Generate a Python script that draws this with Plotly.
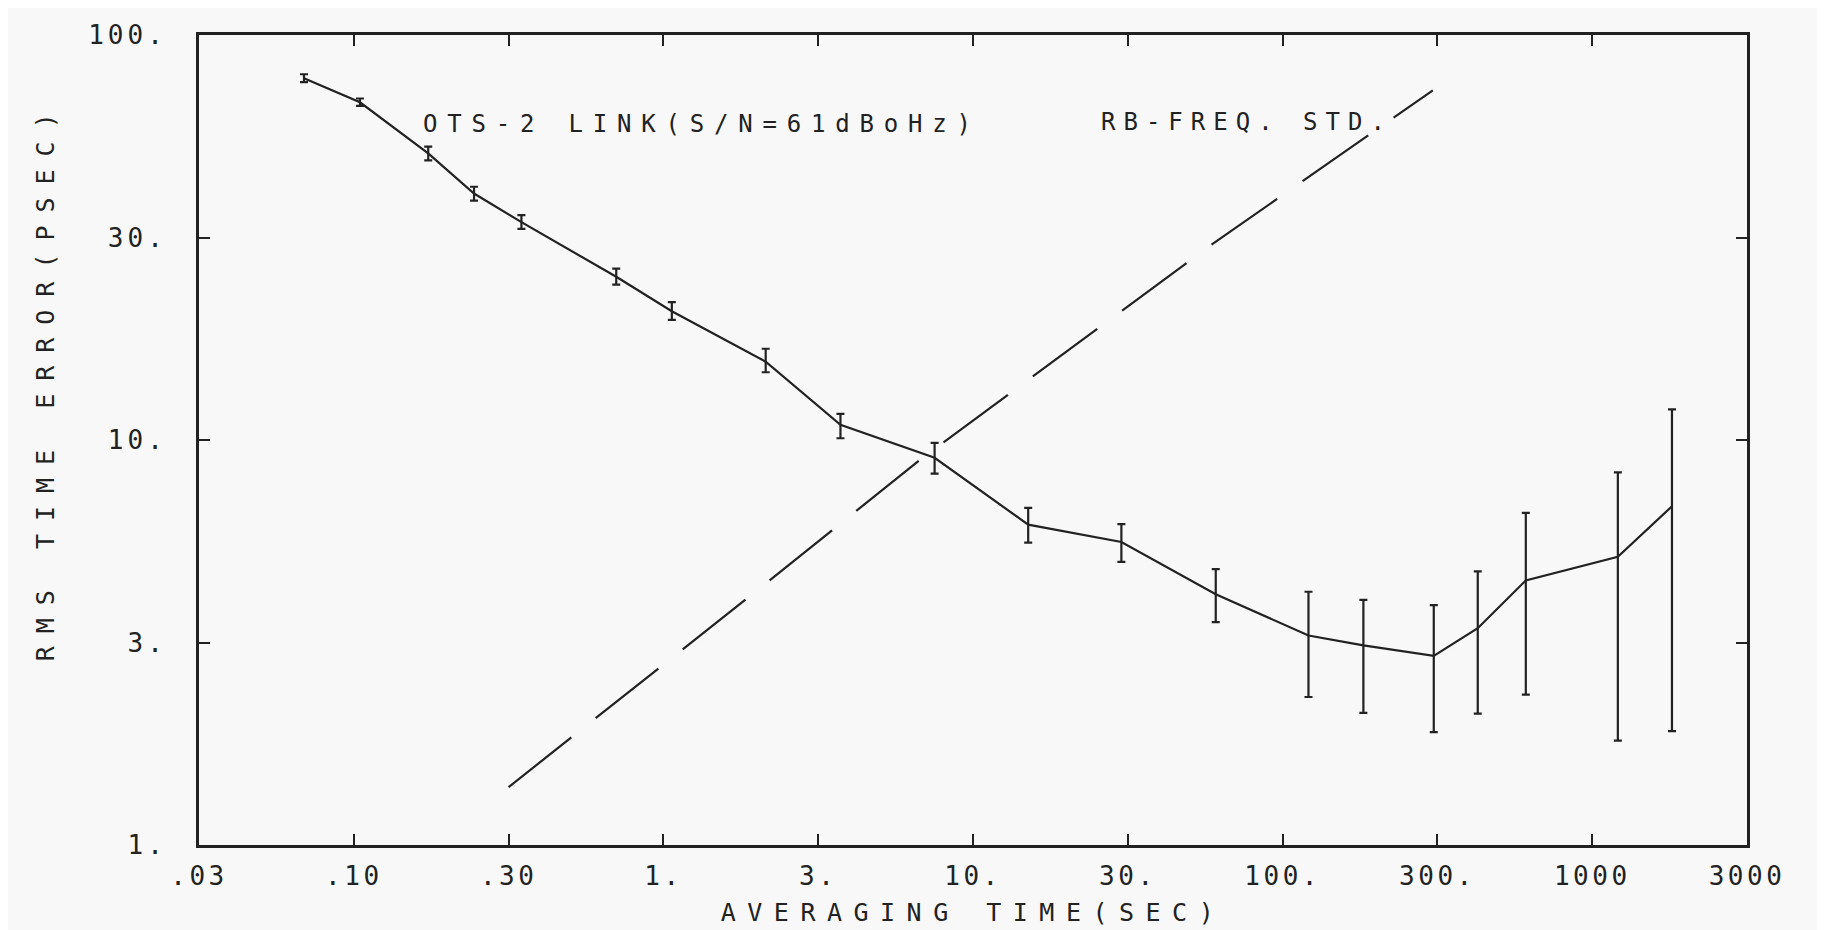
import plotly.graph_objects as go

# ---- data ----
tau = [0.0655, 0.0993, 0.165, 0.232, 0.330, 0.668, 1.01, 2.03, 3.54, 7.13,
       14.3, 28.6, 57.7, 115, 173, 292, 405, 579, 1148, 1717]
rms_err = [78.2, 68.2, 51.0, 40.6, 34.5, 25.3, 20.8, 15.6, 10.9, 9.04,
           6.18, 5.60, 4.16, 3.29, 3.11, 2.93, 3.43, 4.50, 5.15, 6.86]
err_low = [76.5, 66.8, 49.0, 39.0, 33.2, 24.2, 19.8, 14.7, 10.1, 8.26,
           5.58, 5.00, 3.55, 2.32, 2.12, 1.90, 2.11, 2.35, 1.81, 1.91]
err_high = [80.0, 69.7, 53.0, 42.2, 35.9, 26.5, 21.9, 16.8, 11.6, 9.84,
            6.80, 6.20, 4.80, 4.22, 4.03, 3.91, 4.74, 6.61, 8.32, 11.9]

rb_tau = [0.3, 1.75, 6.52, 54.7, 290]
rb_err = [1.39, 4.04, 9.04, 30.0, 73.0]

x_tickvals = [0.03, 0.0949, 0.3, 0.949, 3, 9.49, 30, 94.9, 300, 949, 3000]
x_ticktext = [".03", ".10", ".30", "1.", "3.", "10.", "30.", "100.", "300.", "1000", "3000"]
y_tickvals = [1, 3.162, 10, 31.62, 100]
y_ticktext = ["1.", "3.", "10.", "30.", "100."]

INK = "#222222"
FONT = "DejaVu Sans Mono"


def spaced(s, px):
    return f'<span style="letter-spacing:{px}px">{s}</span>'


err_plus = [h - v for h, v in zip(err_high, rms_err)]
err_minus = [v - l for v, l in zip(rms_err, err_low)]

fig = go.Figure()
fig.add_trace(go.Scatter(
    x=rb_tau, y=rb_err, mode="lines",
    line=dict(color=INK, width=2.2, dash="80px,31px"),
    showlegend=False, hoverinfo="skip"))
fig.add_trace(go.Scatter(
    x=tau, y=rms_err, mode="lines",
    line=dict(color=INK, width=2.2),
    error_y=dict(type="data", symmetric=False, array=err_plus,
                 arrayminus=err_minus, color=INK, thickness=2.2, width=4),
    showlegend=False))

fig.update_layout(
    width=1825, height=930,
    margin=dict(l=191, r=86, t=22, b=93),
    paper_bgcolor="#f8f8f8", plot_bgcolor="#f8f8f8",
    font=dict(family=FONT, color=INK),
    showlegend=False,
)
fig.update_xaxes(
    type="log", range=[-1.5229, 3.4771],
    tickvals=x_tickvals, ticktext=[spaced(t, 3.5) for t in x_ticktext],
    tickfont=dict(size=26, family=FONT, color=INK),
    ticks="inside", ticklen=11, tickwidth=2, tickcolor=INK,
    showline=True, linewidth=3, linecolor=INK, mirror="ticks",
    showgrid=False, zeroline=False, ticklabelstandoff=6,
    title=dict(text=spaced("AVERAGING TIME(SEC)", 11.5),
               font=dict(size=25, family=FONT, color=INK), standoff=14),
)
fig.update_yaxes(
    type="log", range=[0, 2],
    tickvals=y_tickvals, ticktext=[spaced(t, 4) for t in y_ticktext],
    tickfont=dict(size=26, family=FONT, color=INK),
    ticks="inside", ticklen=11, tickwidth=2, tickcolor=INK,
    showline=True, linewidth=3, linecolor=INK, mirror="ticks",
    showgrid=False, zeroline=False, ticklabelstandoff=24,
)

fig.add_annotation(
    text=spaced("RMS TIME ERROR(PSEC)", 13), textangle=-90,
    xref="paper", yref="paper", x=-0.0994, y=0.5726,
    xanchor="center", yanchor="middle", showarrow=False,
    font=dict(size=25, family=FONT, color=INK))
fig.add_annotation(
    text=spaced("OTS-2 LINK(S/N=61dBoHz)", 9.8),
    xref="paper", yref="paper", x=0.1433, y=0.8896,
    xanchor="left", yanchor="middle", showarrow=False,
    font=dict(size=24, family=FONT, color=INK))
fig.add_annotation(
    text=spaced("RB-FREQ. STD.", 8),
    xref="paper", yref="paper", x=0.5817, y=0.892,
    xanchor="left", yanchor="middle", showarrow=False,
    font=dict(size=24, family=FONT, color=INK))

fig.write_html("out.html")
